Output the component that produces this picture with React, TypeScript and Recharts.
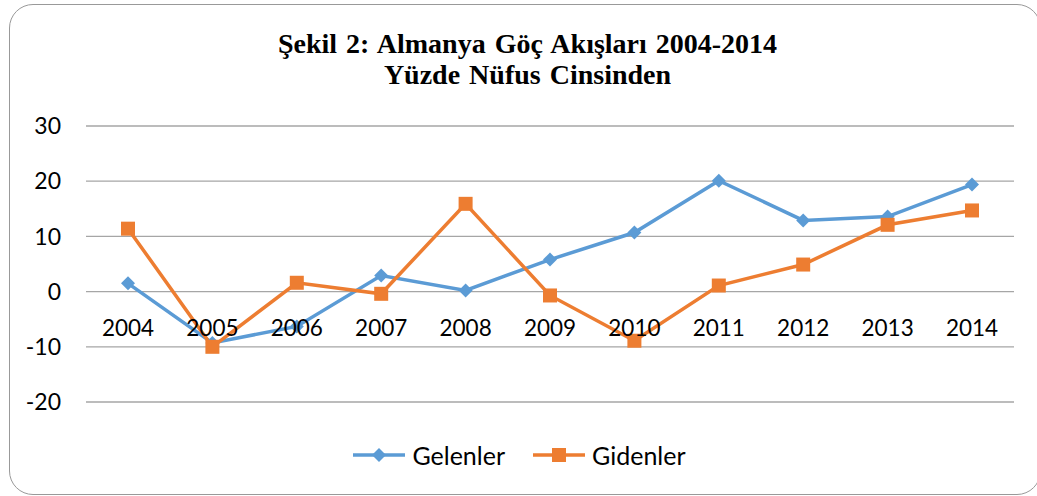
import React from 'react';
import { LineChart, Line, XAxis, YAxis, CartesianGrid } from 'recharts';

const years = ['2004', '2005', '2006', '2007', '2008', '2009', '2010', '2011', '2012', '2013', '2014'];
const gelenler = [1.5, -9.3, -6.3, 2.9, 0.2, 5.8, 10.7, 20.1, 12.9, 13.6, 19.4];
const gidenler = [11.4, -10, 1.6, -0.4, 15.9, -0.7, -8.9, 1.1, 4.9, 12.1, 14.7];
const yTicks = [-20, -10, 0, 10, 20, 30];

const BLUE = '#5b9bd5';
const ORANGE = '#ed7d31';
const FONT = 'Lato, "Open Sans", sans-serif';

const W = 1037;
const H = 496;
const TOP = 126;
const BOTTOM = 94;
const X_AXIS_H = 30;
const PLOT_H = H - TOP - BOTTOM;
const ZERO_Y = TOP + (PLOT_H * 30) / 50;

const data = years.map((y, i) => ({ year: y, gelenler: gelenler[i], gidenler: gidenler[i] }));

const Diamond = (props: any) => {
  const { cx, cy } = props;
  if (cx == null || cy == null) return null;
  const r = 7;
  return <polygon points={`${cx},${cy - r} ${cx + r},${cy} ${cx},${cy + r} ${cx - r},${cy}`} fill={BLUE} />;
};

const Square = (props: any) => {
  const { cx, cy } = props;
  if (cx == null || cy == null) return null;
  return <rect x={cx - 7} y={cy - 7} width={14} height={14} fill={ORANGE} />;
};

// category labels sit under the zero line, like Excel does
const YearTick = (props: any) => {
  const { x, payload } = props;
  return (
    <text x={x} y={ZERO_Y + 44} textAnchor="middle" fill="#000" fontSize={22.5} fontFamily={FONT}>
      {payload.value}
    </text>
  );
};

const LegendBox = () => (
  <div style={{ display: 'flex', justifyContent: 'center', alignItems: 'center', fontFamily: FONT, fontSize: 25, color: '#000' }}>
    <svg width={56} height={20} style={{ marginRight: 5 }}>
      <line x1={2} y1={10} x2={54} y2={10} stroke={BLUE} strokeWidth={3.5} />
      <polygon points="28,3 35,10 28,17 21,10" fill={BLUE} />
    </svg>
    <span style={{ marginRight: 26 }}>Gelenler</span>
    <svg width={56} height={20} style={{ marginRight: 5 }}>
      <line x1={2} y1={10} x2={54} y2={10} stroke={ORANGE} strokeWidth={3.5} />
      <rect x={21} y={3} width={14} height={14} fill={ORANGE} />
    </svg>
    <span>Gidenler</span>
  </div>
);

export default function App() {
  return (
    <div style={{ position: 'absolute', left: 0, top: 0, width: W, height: H, background: '#fff', overflow: 'hidden' }}>
      <div
        style={{
          position: 'absolute',
          left: 9,
          top: 4,
          width: 1032,
          height: 491,
          border: '1.5px solid #999',
          borderRadius: 24,
          boxSizing: 'border-box',
        }}
      />
      <div
        style={{
          position: 'absolute',
          left: 0,
          top: 28,
          width: 1055,
          textAlign: 'center',
          fontFamily: '"Liberation Serif", "Times New Roman", serif',
          fontWeight: 'bold',
          fontSize: 28,
          lineHeight: '31px',
          wordSpacing: 2,
          color: '#000',
        }}
      >
        <div>Şekil 2: Almanya Göç Akışları 2004-2014</div>
        <div>Yüzde Nüfus Cinsinden</div>
      </div>
      <div style={{ position: 'absolute', left: 0, top: 0 }}>
        <LineChart width={W} height={H} data={data} margin={{ top: TOP, right: 23, bottom: BOTTOM - X_AXIS_H, left: 0 }}>
          <CartesianGrid vertical={false} stroke="#a6a6a6" strokeWidth={1.3} />
          <XAxis
            dataKey="year"
            height={X_AXIS_H}
            axisLine={false}
            tickLine={false}
            padding={{ left: 42, right: 42 }}
            tick={<YearTick />}
            interval={0}
          />
          <YAxis
            width={86}
            domain={[-20, 30]}
            ticks={yTicks}
            axisLine={false}
            tickLine={false}
            tickSize={0}
            tickMargin={25}
            tick={{ fill: '#000', fontSize: 23, fontFamily: FONT }}
          />
          <Line
            dataKey="gelenler"
            name="Gelenler"
            stroke={BLUE}
            strokeWidth={3.5}
            dot={<Diamond />}
            activeDot={false}
            isAnimationActive={false}
          />
          <Line
            dataKey="gidenler"
            name="Gidenler"
            stroke={ORANGE}
            strokeWidth={3.5}
            dot={<Square />}
            activeDot={false}
            isAnimationActive={false}
          />
        </LineChart>
      </div>
      <div style={{ position: 'absolute', left: 0, top: 440, width: W }}>
        <LegendBox />
      </div>
    </div>
  );
}
